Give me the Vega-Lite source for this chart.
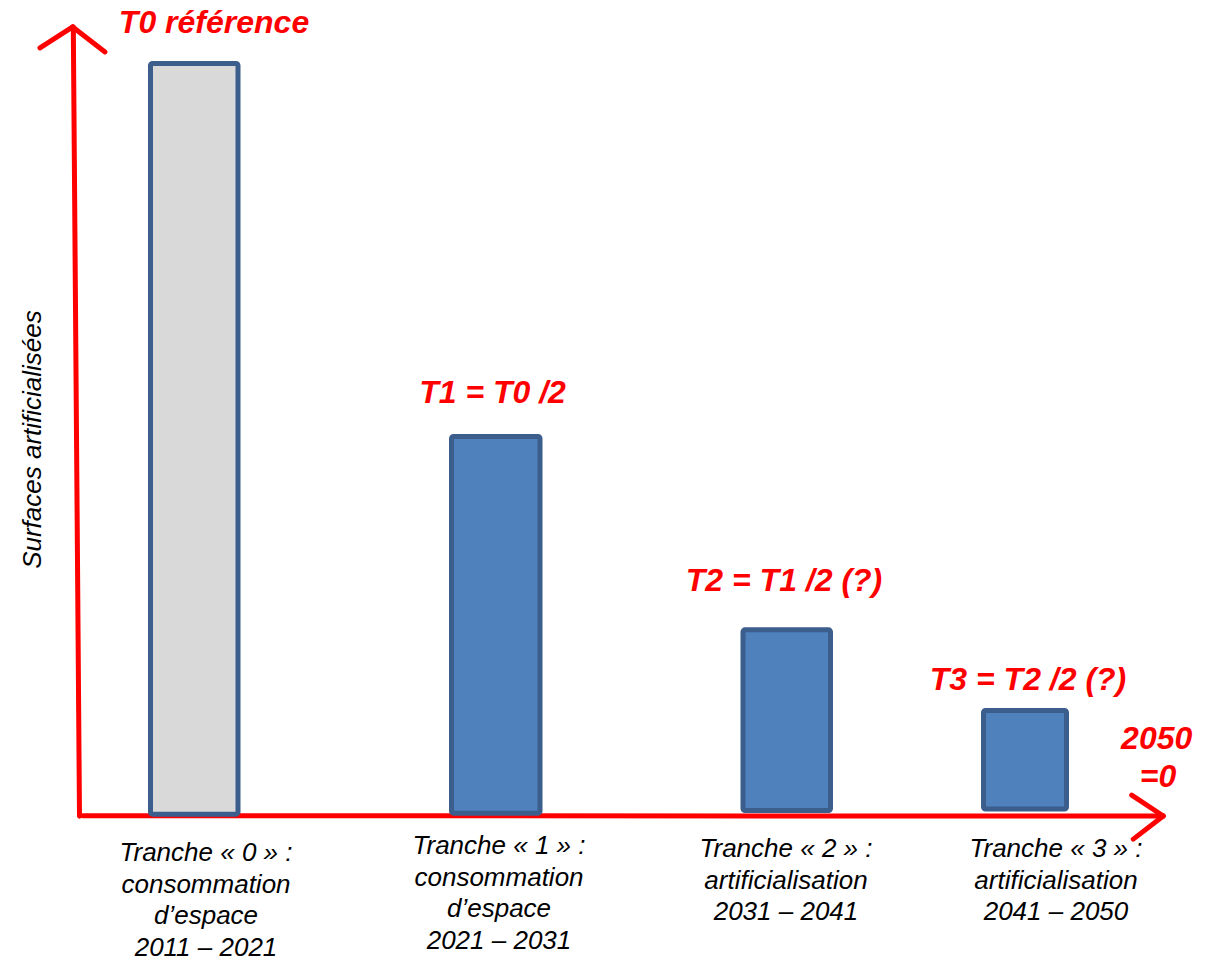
{
  "$schema": "https://vega.github.io/schema/vega-lite/v6.json",
  "width": 1214,
  "height": 961,
  "autosize": {"type": "fit", "contains": "padding"},
  "padding": 0,
  "background": "white",
  "config": {"view": {"stroke": null}},
  "datasets": {
    "axes": [
      {"part": "axe y", "x": 7.33, "y": 104.86, "x2": 7.95, "y2": -0.27},
      {"part": "axe x", "x": 8.3, "y": -0.2, "x2": 116.3, "y2": -0.25},
      {"part": "flèche haut gauche", "x": 4.0, "y": 102.06, "x2": 7.27, "y2": 104.86},
      {"part": "flèche haut droite", "x": 7.27, "y": 104.86, "x2": 10.5, "y2": 101.53},
      {"part": "flèche droite haut", "x": 113.17, "y": 2.53, "x2": 116.33, "y2": -0.25},
      {"part": "flèche droite bas", "x": 113.33, "y": -3.33, "x2": 116.33, "y2": -0.25}
    ],
    "bars": [
      {"tranche": "T0", "type": "référence", "x": 15.05, "x2": 23.8, "y": 0, "y2": 100},
      {"tranche": "T1", "type": "tranche", "x": 45.15, "x2": 54.0, "y": 0.13, "y2": 50.3},
      {"tranche": "T2", "type": "tranche", "x": 74.3, "x2": 83.05, "y": 0.47, "y2": 24.55},
      {"tranche": "T3", "type": "tranche", "x": 98.35, "x2": 106.65, "y": 0.67, "y2": 13.8}
    ],
    "red": [
      {"label": "T0 référence", "x": 21.4, "y": 104.06},
      {"label": "T1 = T0 /2", "x": 49.25, "y": 54.82},
      {"label": "T2 = T1 /2 (?)", "x": 78.4, "y": 29.67},
      {"label": "T3 = T2 /2 (?)", "x": 102.8, "y": 16.5},
      {"label": "2050", "x": 115.67, "y": 8.65},
      {"label": "=0", "x": 115.8, "y": 3.59}
    ],
    "cats": [
      {"label": "Tranche « 0 » :\nconsommation\nd’espace\n2011 – 2021", "x": 20.6, "y": -6.25},
      {"label": "Tranche « 1 » :\nconsommation\nd’espace\n2021 – 2031", "x": 49.9, "y": -5.32},
      {"label": "Tranche « 2 » :\nartificialisation\n2031 – 2041", "x": 78.6, "y": -5.72},
      {"label": "Tranche « 3 » :\nartificialisation\n2041 – 2050", "x": 105.6, "y": -5.72}
    ],
    "title": [
      {"label": "Surfaces artificialisées", "x": 3.25, "y": 49.9}
    ]
  },
  "layer": [
    {
      "data": {"name": "axes"},
      "mark": {"type": "rule", "color": "#ff0000", "strokeWidth": 5, "strokeCap": "round"},
      "encoding": {
        "x": {"field": "x", "type": "quantitative", "scale": {"domain": [0, 121.4], "nice": false, "zero": false}, "axis": null},
        "y": {"field": "y", "type": "quantitative", "scale": {"domain": [-19.43, 108.45], "nice": false, "zero": false}, "axis": null},
        "x2": {"field": "x2"},
        "y2": {"field": "y2"}
      }
    },
    {
      "data": {"name": "bars"},
      "mark": {"type": "rect", "stroke": "#3b5e8c", "strokeWidth": 5, "strokeJoin": "round", "cornerRadius": 2},
      "encoding": {
        "x": {"field": "x", "type": "quantitative", "scale": {"domain": [0, 121.4], "nice": false, "zero": false}, "axis": null},
        "x2": {"field": "x2"},
        "y": {"field": "y", "type": "quantitative", "scale": {"domain": [-19.43, 108.45], "nice": false, "zero": false}, "axis": null},
        "y2": {"field": "y2"},
        "fill": {"field": "type", "type": "nominal", "scale": {"domain": ["référence", "tranche"], "range": ["#d9d9d9", "#4f81bd"]}, "legend": null}
      }
    },
    {
      "data": {"name": "red"},
      "mark": {"type": "text", "font": "Liberation Sans", "fontSize": 32, "fontWeight": "bold", "fontStyle": "italic", "color": "#ff0000", "align": "center", "baseline": "alphabetic"},
      "encoding": {
        "x": {"field": "x", "type": "quantitative", "scale": {"domain": [0, 121.4], "nice": false, "zero": false}, "axis": null},
        "y": {"field": "y", "type": "quantitative", "scale": {"domain": [-19.43, 108.45], "nice": false, "zero": false}, "axis": null},
        "text": {"field": "label"}
      }
    },
    {
      "data": {"name": "cats"},
      "mark": {"type": "text", "font": "Liberation Sans", "fontSize": 26, "fontStyle": "italic", "color": "#000000", "align": "center", "baseline": "alphabetic", "lineBreak": "\n", "lineHeight": 31.6},
      "encoding": {
        "x": {"field": "x", "type": "quantitative", "scale": {"domain": [0, 121.4], "nice": false, "zero": false}, "axis": null},
        "y": {"field": "y", "type": "quantitative", "scale": {"domain": [-19.43, 108.45], "nice": false, "zero": false}, "axis": null},
        "text": {"field": "label"}
      }
    },
    {
      "data": {"name": "title"},
      "mark": {"type": "text", "font": "Liberation Sans", "fontSize": 26, "fontStyle": "italic", "color": "#000000", "align": "center", "baseline": "middle", "angle": 270},
      "encoding": {
        "x": {"field": "x", "type": "quantitative", "scale": {"domain": [0, 121.4], "nice": false, "zero": false}, "axis": null},
        "y": {"field": "y", "type": "quantitative", "scale": {"domain": [-19.43, 108.45], "nice": false, "zero": false}, "axis": null},
        "text": {"field": "label"}
      }
    }
  ]
}
